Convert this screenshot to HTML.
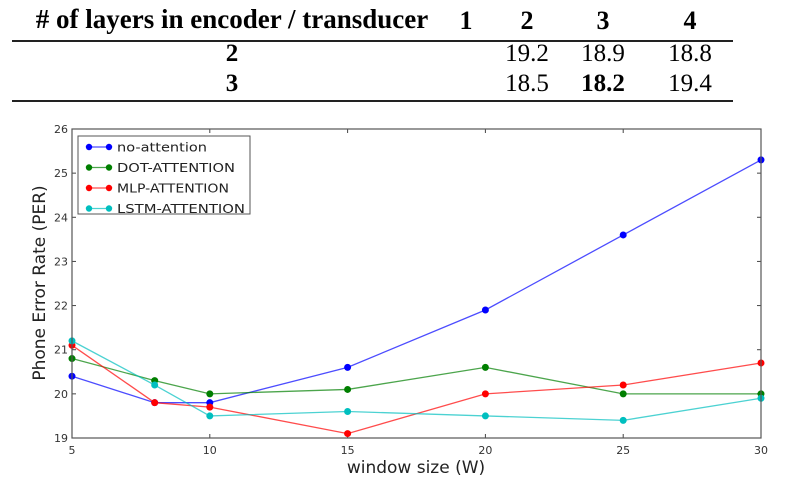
<!DOCTYPE html>
<html><head><meta charset="utf-8"><style>
body{margin:0;background:#fff;width:787px;height:485px;overflow:hidden;position:relative}
.t{position:absolute;font-family:"Liberation Serif",serif;font-size:25px;line-height:25px;transform:translateX(-50%);white-space:nowrap}
.b{font-weight:bold}
.hl{position:absolute;left:12px;width:721px;height:1.5px;background:#222}
</style></head><body>
<div class="t b" style="left:232px;top:7px;font-size:27px">#&nbsp;of layers in encoder / transducer</div>
<div class="t b" style="left:466px;top:8px;font-size:26px">1</div>
<div class="t b" style="left:527px;top:8px;font-size:26px">2</div>
<div class="t b" style="left:603px;top:8px;font-size:26px">3</div>
<div class="t b" style="left:690px;top:8px;font-size:26px">4</div>
<div class="hl" style="top:40px"></div>
<div class="t b" style="left:232px;top:41px">2</div>
<div class="t" style="left:527px;top:41px">19.2</div>
<div class="t" style="left:603px;top:41px">18.9</div>
<div class="t" style="left:690px;top:41px">18.8</div>
<div class="t b" style="left:232px;top:71px">3</div>
<div class="t" style="left:527px;top:71px">18.5</div>
<div class="t b" style="left:603px;top:71px">18.2</div>
<div class="t" style="left:690px;top:71px">19.4</div>
<div class="hl" style="top:100px"></div>
<svg width="787" height="485" style="position:absolute;left:0;top:0" font-family="DejaVu Sans, Liberation Sans, sans-serif">
<g id="plot"></g>
</svg>
<script>
const X0=72,X1=761,Y0=438,Y1=129;
const xs=[5,8,10,15,20,25,30];
const px=x=>X0+(x-5)*(X1-X0)/25, py=y=>Y0-(y-19)*(Y0-Y1)/7;
const S=[["#0000ff","no-attention",[20.4,19.8,19.8,20.6,21.9,23.6,25.3]],
["#007f00","DOT-ATTENTION",[20.8,20.3,20.0,20.1,20.6,20.0,20.0]],
["#ff0000","MLP-ATTENTION",[21.1,19.8,19.7,19.1,20.0,20.2,20.7]],
["#00bfbf","LSTM-ATTENTION",[21.2,20.2,19.5,19.6,19.5,19.4,19.9]]];
let h='';
for(let i=0;i<=7;i++){const y=py(19+i);h+=`<line x1="${X0}" y1="${y}" x2="${X0+4}" y2="${y}" stroke="#444"/><line x1="${X1}" y1="${y}" x2="${X1-4}" y2="${y}" stroke="#444"/><text x="${X0-4}" y="${y+4}" font-size="11" text-anchor="end" fill="#333">${19+i}</text>`;}
[5,10,15,20,25,30].forEach(x=>{const X=px(x);h+=`<line x1="${X}" y1="${Y0}" x2="${X}" y2="${Y0-4}" stroke="#444"/><line x1="${X}" y1="${Y1}" x2="${X}" y2="${Y1+4}" stroke="#444"/><text x="${X}" y="${Y0+16}" font-size="11" text-anchor="middle" fill="#333">${x}</text>`;});
S.forEach(([c,n,d])=>{h+=`<polyline fill="none" stroke="${c}" stroke-opacity="0.7" stroke-width="1.3" points="${d.map((v,i)=>px(xs[i])+','+py(v)).join(' ')}"/>`;d.forEach((v,i)=>h+=`<circle cx="${px(xs[i])}" cy="${py(v)}" r="3.5" fill="${c}"/>`);});
h+=`<rect x="${X0}" y="${Y1}" width="${X1-X0}" height="${Y0-Y1}" fill="none" stroke="#555" stroke-width="1.2"/>`;
h+=`<rect x="78" y="136" width="172" height="78" fill="#fff" stroke="#555"/>`;
S.forEach(([c,n],i)=>{const y=147+i*20.5;h+=`<line x1="89" y1="${y}" x2="109" y2="${y}" stroke="${c}" stroke-opacity="0.7" stroke-width="1.3"/><circle cx="89" cy="${y}" r="3.2" fill="${c}"/><circle cx="109" cy="${y}" r="3.2" fill="${c}"/><text x="117" y="${y+4.5}" font-size="12.5" fill="#222" textLength="${[90,118,112,128][i]}" lengthAdjust="spacingAndGlyphs">${n}</text>`;});
h+=`<text x="416" y="473" font-size="17" text-anchor="middle" fill="#222">window size (W)</text>`;
h+=`<text transform="translate(45,283) rotate(-90)" font-size="17" text-anchor="middle" fill="#222">Phone Error Rate (PER)</text>`;
document.getElementById('plot').innerHTML=h;
</script>
</body></html>
